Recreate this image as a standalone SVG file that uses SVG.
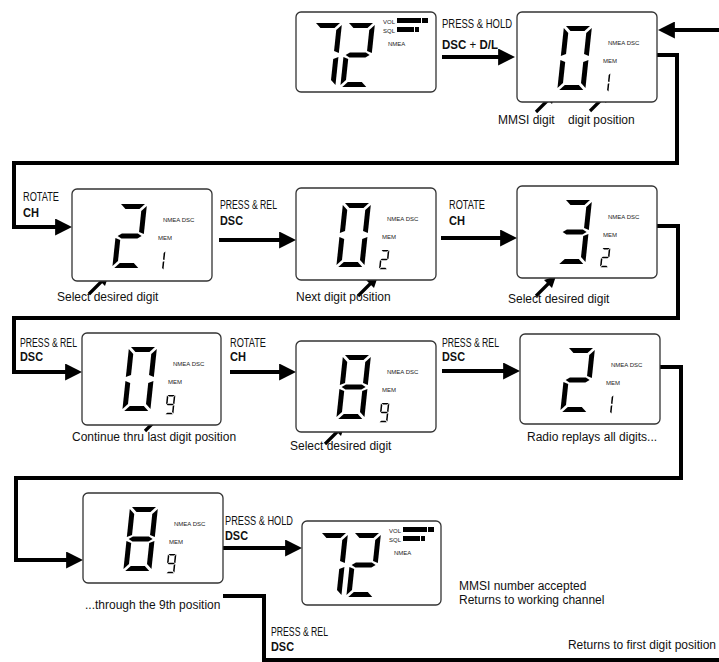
<svg xmlns="http://www.w3.org/2000/svg" xmlns:xlink="http://www.w3.org/1999/xlink" width="719" height="662" viewBox="0 0 719 662">
<style>
.box{fill:#fff;stroke:#333;stroke-width:1.3}
.seg{fill:#000}
.t{font-family:"Liberation Sans",Arial,sans-serif;font-size:12px;fill:#111}
.b{font-weight:bold}
.s{font-family:"Liberation Sans",Arial,sans-serif;font-size:6px;fill:#222}
.c{fill:none;stroke:#000;stroke-width:4;stroke-linejoin:miter}
.p{fill:none;stroke:#000;stroke-width:3.2}
.ph{fill:#000;stroke:none}
</style>
<defs>
<marker id="ah" viewBox="0 0 10 10" refX="0.5" refY="5" markerWidth="17" markerHeight="17" markerUnits="userSpaceOnUse" orient="auto"><path d="M0,0 L10,5 L0,10 z" fill="#000"/></marker>
<polygon id="sa" class="seg" points="2,0 26,0 21,5 7,5"/>
<polygon id="sb" class="seg" points="28,2 28,30 23,28 23,7"/>
<polygon id="sc" class="seg" points="28,34 28,62 23,57 23,36"/>
<polygon id="sd" class="seg" points="7,59 21,59 26,64 2,64"/>
<polygon id="se" class="seg" points="0,34 5,36 5,57 0,62"/>
<polygon id="sf" class="seg" points="0,2 5,7 5,28 0,30"/>
<polygon id="sg" class="seg" points="2,32 6,29.5 22,29.5 26,32 22,34.5 6,34.5"/>
<g id="d0"><use href="#sa"/><use href="#sb"/><use href="#sc"/><use href="#sd"/><use href="#se"/><use href="#sf"/></g>
<g id="d1"><use href="#sb"/><use href="#sc"/></g>
<g id="d2"><use href="#sa"/><use href="#sb"/><use href="#sg"/><use href="#se"/><use href="#sd"/></g>
<g id="d3"><use href="#sa"/><use href="#sb"/><use href="#sg"/><use href="#sc"/><use href="#sd"/></g>
<g id="d7"><use href="#sa"/><use href="#sb"/><use href="#sc"/></g>
<g id="d8"><use href="#sa"/><use href="#sb"/><use href="#sc"/><use href="#sd"/><use href="#se"/><use href="#sf"/><use href="#sg"/></g>
<g id="d9"><use href="#sa"/><use href="#sb"/><use href="#sc"/><use href="#sd"/><use href="#sf"/><use href="#sg"/></g>
<g id="dsc"><text class="s" x="91" y="33">NMEA  DSC</text><text class="s" x="86" y="51">MEM</text></g>
<g id="vol"><text class="s" x="87" y="12">VOL</text><text class="s" x="87" y="21">SQL</text><text class="s" x="92" y="34">NMEA</text><rect x="101" y="6" width="24" height="5"/><rect x="126" y="6" width="6" height="5"/><rect x="101" y="15" width="17" height="5"/><rect x="119" y="15" width="4" height="5"/></g>
</defs>

<g id="connectors">
<path class="c" d="M442,57 H499" marker-end="url(#ah)"/>
<path class="c" d="M719,30 H674" marker-end="url(#ah)"/>
<path class="c" d="M657,55 H677 V163 H14 V227 H56" marker-end="url(#ah)"/>
<path class="c" d="M219,240 H280" marker-end="url(#ah)"/>
<path class="c" d="M441,238 H501" marker-end="url(#ah)"/>
<path class="c" d="M657,226 H678 V318 H14 V372 H66" marker-end="url(#ah)"/>
<path class="c" d="M230,372 H280" marker-end="url(#ah)"/>
<path class="c" d="M442,371 H504" marker-end="url(#ah)"/>
<path class="c" d="M660,367 H681 V478 H16 V560 H67" marker-end="url(#ah)"/>
<path class="c" d="M223,548 H286" marker-end="url(#ah)"/>
<path class="c" d="M223,596 H264 V660 H719"/>
<path class="p" d="M536,112 L550,98"/><polygon class="ph" points="556,92 552,104 544,96"/>
<path class="p" d="M590,111 L604,97"/><polygon class="ph" points="610,91 606,103 598,95"/>
<path class="p" d="M89,294 L103,280"/><polygon class="ph" points="109,274 105,286 97,278"/>
<path class="p" d="M358,296 L372,282"/><polygon class="ph" points="378,276 374,288 366,280"/>
<path class="p" d="M536,296 L550,282"/><polygon class="ph" points="556,276 552,288 544,280"/>
<path class="p" d="M145,431 L159,417"/><polygon class="ph" points="165,411 161,423 153,415"/>
<path class="p" d="M325,444 L339,430"/><polygon class="ph" points="345,424 341,436 333,428"/>
</g>

<g id="panelA" transform="translate(296,12)">
<rect class="box" x="0" y="0" width="140" height="80" rx="5"/>
<use href="#d7" transform="translate(18,11) skewX(-6)"/>
<use href="#d2" transform="translate(51,11) skewX(-6)"/>
<use href="#vol"/>
</g>
<g id="panelB" transform="translate(517,12)">
<rect class="box" x="0" y="0" width="140" height="90" rx="5"/>
<use href="#d0" transform="translate(47,14) skewX(-6)"/>
<use href="#dsc"/>
<use href="#d1" transform="translate(85,61) skewX(-6) scale(0.3)"/>
</g>
<g id="panelC" transform="translate(72,189)">
<rect class="box" x="0" y="0" width="140" height="92" rx="5"/>
<use href="#d2" transform="translate(47,15) skewX(-6)"/>
<use href="#dsc"/>
<use href="#d1" transform="translate(85,62) skewX(-6) scale(0.3)"/>
</g>
<g id="panelD" transform="translate(296,188)">
<rect class="box" x="0" y="0" width="140" height="92" rx="5"/>
<use href="#d0" transform="translate(47,15) skewX(-6)"/>
<use href="#dsc"/>
<use href="#d2" transform="translate(85,62) skewX(-6) scale(0.3)"/>
</g>
<g id="panelE" transform="translate(517,186)">
<rect class="box" x="0" y="0" width="140" height="92" rx="5"/>
<use href="#d3" transform="translate(47,14) skewX(-6)"/>
<use href="#dsc"/>
<use href="#d2" transform="translate(85,62) skewX(-6) scale(0.3)"/>
</g>
<g id="panelF" transform="translate(82,333)">
<rect class="box" x="0" y="0" width="139" height="92" rx="5"/>
<use href="#d0" transform="translate(47,14) skewX(-6)"/>
<use href="#dsc"/>
<use href="#d9" transform="translate(85,62) skewX(-6) scale(0.3)"/>
</g>
<g id="panelG" transform="translate(296,341)">
<rect class="box" x="0" y="0" width="140" height="91" rx="5"/>
<use href="#d8" transform="translate(47,14) skewX(-6)"/>
<use href="#dsc"/>
<use href="#d9" transform="translate(85,62) skewX(-6) scale(0.3)"/>
</g>
<g id="panelH" transform="translate(520,334)">
<rect class="box" x="0" y="0" width="140" height="90" rx="5"/>
<use href="#d2" transform="translate(47,14) skewX(-6)"/>
<use href="#dsc"/>
<use href="#d1" transform="translate(85,61) skewX(-6) scale(0.3)"/>
</g>
<g id="panelI" transform="translate(83,493)">
<rect class="box" x="0" y="0" width="140" height="90" rx="5"/>
<use href="#d8" transform="translate(47,14) skewX(-6)"/>
<use href="#dsc"/>
<use href="#d9" transform="translate(85,61) skewX(-6) scale(0.3)"/>
</g>
<g id="panelJ" transform="translate(302,521)">
<rect class="box" x="0" y="0" width="139" height="84" rx="5"/>
<use href="#d7" transform="translate(18,12) skewX(-6)"/>
<use href="#d2" transform="translate(51,12) skewX(-6)"/>
<use href="#vol"/>
</g>

<g id="labels">
<text class="t" x="442" y="28" textLength="70" lengthAdjust="spacingAndGlyphs">PRESS &amp; HOLD</text>
<text class="t" x="442" y="49" textLength="56" lengthAdjust="spacingAndGlyphs"><tspan class="b">DSC</tspan> + <tspan class="b">D/L</tspan></text>
<text class="t" x="498" y="124">MMSI digit</text>
<text class="t" x="568" y="124">digit position</text>
<text class="t" x="23" y="201" textLength="36" lengthAdjust="spacingAndGlyphs">ROTATE</text>
<text class="t b" x="23" y="217" textLength="16" lengthAdjust="spacingAndGlyphs">CH</text>
<text class="t" x="220" y="209" textLength="57" lengthAdjust="spacingAndGlyphs">PRESS &amp; REL</text>
<text class="t b" x="220" y="225" textLength="23" lengthAdjust="spacingAndGlyphs">DSC</text>
<text class="t" x="449" y="209" textLength="36" lengthAdjust="spacingAndGlyphs">ROTATE</text>
<text class="t b" x="449" y="225" textLength="16" lengthAdjust="spacingAndGlyphs">CH</text>
<text class="t" x="57" y="301">Select desired digit</text>
<text class="t" x="296" y="301">Next digit position</text>
<text class="t" x="508" y="303">Select desired digit</text>
<text class="t" x="20" y="347" textLength="57" lengthAdjust="spacingAndGlyphs">PRESS &amp; REL</text>
<text class="t b" x="20" y="361" textLength="23" lengthAdjust="spacingAndGlyphs">DSC</text>
<text class="t" x="230" y="347" textLength="36" lengthAdjust="spacingAndGlyphs">ROTATE</text>
<text class="t b" x="230" y="361" textLength="16" lengthAdjust="spacingAndGlyphs">CH</text>
<text class="t" x="442" y="347" textLength="57" lengthAdjust="spacingAndGlyphs">PRESS &amp; REL</text>
<text class="t b" x="442" y="361" textLength="23" lengthAdjust="spacingAndGlyphs">DSC</text>
<text class="t" x="72" y="441">Continue thru last digit position</text>
<text class="t" x="290" y="450">Select desired digit</text>
<text class="t" x="527" y="441">Radio replays all digits...</text>
<text class="t" x="225" y="525" textLength="68" lengthAdjust="spacingAndGlyphs">PRESS &amp; HOLD</text>
<text class="t b" x="225" y="540" textLength="23" lengthAdjust="spacingAndGlyphs">DSC</text>
<text class="t" x="85" y="609">...through the 9th position</text>
<text class="t" x="459" y="590">MMSI number accepted</text>
<text class="t" x="459" y="604">Returns to working channel</text>
<text class="t" x="271" y="636" textLength="57" lengthAdjust="spacingAndGlyphs">PRESS &amp; REL</text>
<text class="t b" x="271" y="651" textLength="23" lengthAdjust="spacingAndGlyphs">DSC</text>
<text class="t" x="716" y="649" text-anchor="end">Returns to first digit position</text>
</g>
</svg>
